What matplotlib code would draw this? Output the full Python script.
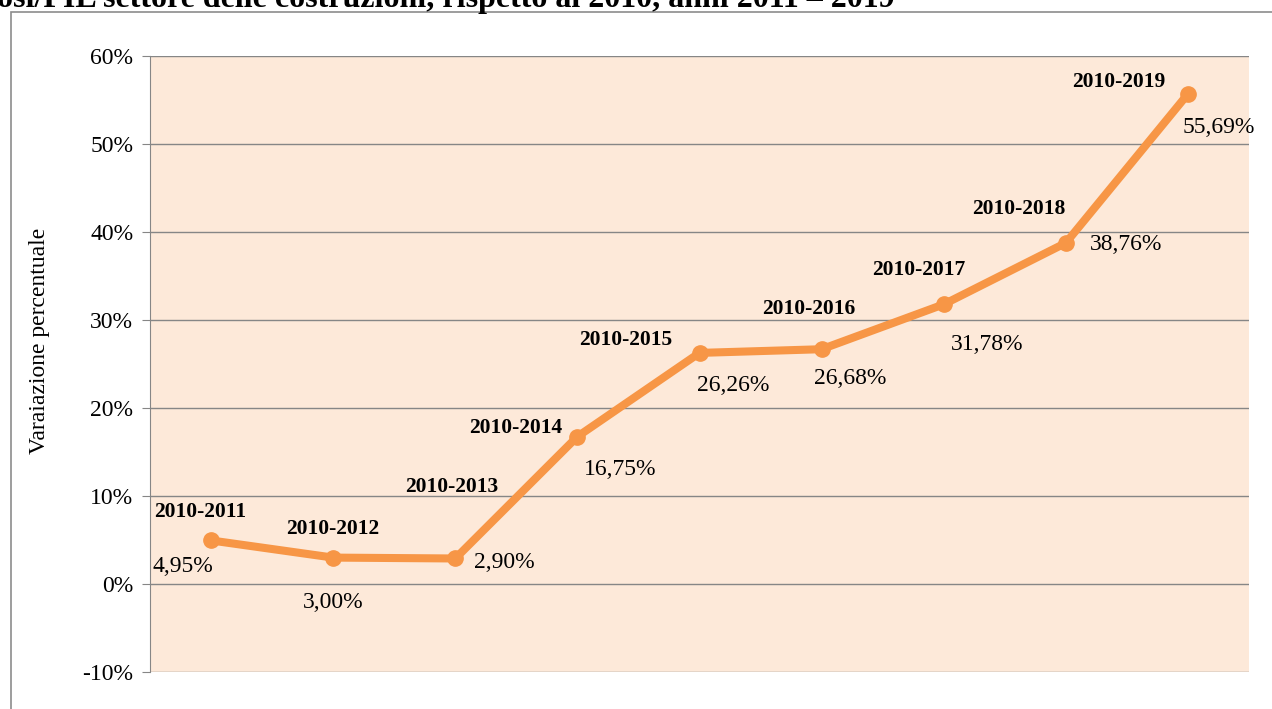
import numpy as np
import matplotlib.pyplot as plt
from matplotlib.patches import Rectangle
from matplotlib.ticker import FuncFormatter

plt.rcParams['font.family'] = ['Liberation Serif', 'DejaVu Serif']

###Data
periods = ["2010-2011", "2010-2012", "2010-2013", "2010-2014", "2010-2015",
           "2010-2016", "2010-2017", "2010-2018", "2010-2019"]
variation = [4.95, 3.00, 2.90, 16.75, 26.26, 26.68, 31.78, 38.76, 55.69]
y_ticks = [-10, 0, 10, 20, 30, 40, 50, 60]

###Label placement (pixel offsets from each point, y up)
name_offsets = [(-11, 28), (0, 29), (-4, 71), (-62, 9), (-74, 13),
                (-13, 40), (-25, 34), (-47, 34), (-69, 12)]
value_offsets = [(-28, -26), (0, -45), (49, -4), (43, -33), (34, -33),
                 (29, -29), (43, -40), (60, -2), (31, -34)]

W, H = 1272, 709
fig = plt.figure(figsize=(W / 100, H / 100), dpi=100)

###Outer frame of the chart object
fig.patches.append(Rectangle((11 / W, -0.1), 1.2, (H - 12) / H + 0.1,
                             transform=fig.transFigure, fill=False,
                             edgecolor='#8c8c8c', linewidth=1.2, zorder=0))

###Cut title on top
fig.text(-3 / W, 1 - 7 / H, "osi/PIL settore delle costruzioni, rispetto al 2010, anni 2011 \u2013 2019",
         ha='left', va='baseline', fontsize=23, fontweight='bold')

ax = fig.add_axes([150 / W, 37 / H, 1099 / W, 616 / H])
ax.set_facecolor('#fde9d9')

x = np.arange(len(periods))
ax.plot(x, variation, color='#f79646', linewidth=5.8, marker='o',
        markersize=11, solid_capstyle='round', zorder=3)

ax.set_xlim(-0.5, len(periods) - 0.5)
ax.set_ylim(-10, 60)
ax.set_yticks(y_ticks)
ax.yaxis.set_major_formatter(FuncFormatter(lambda v, p: f"{v:.0f}%"))
ax.set_xticks([])
ax.grid(axis='y', color='#868686', linewidth=1)
ax.set_axisbelow(True)
for side in ['top', 'right', 'bottom']:
    ax.spines[side].set_visible(False)
ax.spines['left'].set_color('#868686')
ax.tick_params(axis='y', direction='out', length=6, color='#868686',
               labelsize=17, pad=6)

ax.set_ylabel("Varaiazione percentuale", fontsize=17)
ax.yaxis.set_label_coords(-0.091, 0.537)

for i, (name, val) in enumerate(zip(periods, variation)):
    dx, dy = name_offsets[i]
    ax.annotate(name, (i, val), xytext=(dx * 0.72, dy * 0.72),
                textcoords='offset points', ha='center', va='center',
                fontsize=15.5, fontweight='bold', zorder=4)
    dx, dy = value_offsets[i]
    ax.annotate(f"{val:.2f}%".replace('.', ','), (i, val),
                xytext=(dx * 0.72, dy * 0.72), textcoords='offset points',
                ha='center', va='center', fontsize=17, zorder=4)

fig.savefig("out.png", dpi=100)
